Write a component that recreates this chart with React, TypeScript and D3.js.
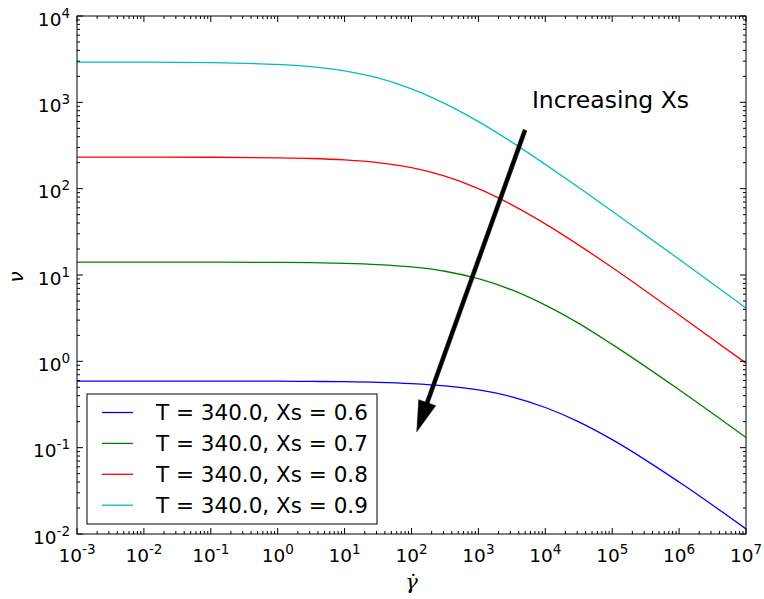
import React from "react";
import * as d3 from "d3";

const shearRates = [1e-3, 1e-2, 1e-1, 1, 3.162, 10, 31.62, 100, 316.2, 1000, 3162, 1e4, 31623, 1e5, 1e6, 1e7];
const nuXs06 = [0.590, 0.590, 0.590, 0.589, 0.585, 0.581, 0.572, 0.553, 0.520, 0.466, 0.388, 0.292, 0.199, 0.124, 0.040, 0.01146];
const nuXs07 = [14.13, 14.13, 14.10, 14.00, 13.88, 13.64, 13.20, 12.40, 11.05, 9.05, 6.71, 4.48, 2.75, 1.57, 0.468, 0.131];
const nuXs08 = [232.3, 232.0, 231.2, 227.8, 223.5, 215.0, 200.0, 175.0, 139.5, 100.0, 65.0, 39.1, 22.2, 12.2, 3.44, 0.953];
const nuXs09 = [2924, 2915, 2880, 2745, 2590, 2310, 1915, 1430, 964, 597, 346, 191, 103.3, 54.8, 15.2, 4.15];
const seriesLabels = ["T = 340.0, Xs = 0.6", "T = 340.0, Xs = 0.7", "T = 340.0, Xs = 0.8", "T = 340.0, Xs = 0.9"];
const seriesColors = ["#0000ff", "#008000", "#ff0000", "#00bfbf"];
const xExponents = [-3, -2, -1, 0, 1, 2, 3, 4, 5, 6, 7];
const yExponents = [-2, -1, 0, 1, 2, 3, 4];
const arrowTail = [4977, 477.5];
const arrowTip = [119.7, 0.1524];
const annotationAt = [6310, 859];
const annotationText = "Increasing Xs";

const W = 764, H = 599;
const L = 77, R = 746, T = 16, B = 534;
const FONT = "'DejaVu Sans', sans-serif";

export default function App() {
  const x = d3.scaleLog().domain([1e-3, 1e7]).range([L, R]);
  const y = d3.scaleLog().domain([1e-2, 1e4]).range([B, T]);
  const series = [nuXs06, nuXs07, nuXs08, nuXs09];
  const line = d3
    .line<[number, number]>()
    .x((d) => x(d[0]))
    .y((d) => y(d[1]))
    .curve(d3.curveMonotoneX);

  const xMinor: number[] = [];
  for (let e = -3; e < 7; e++) for (let k = 2; k <= 9; k++) xMinor.push(k * Math.pow(10, e));
  const yMinor: number[] = [];
  for (let e = -2; e < 4; e++) for (let k = 2; k <= 9; k++) yMinor.push(k * Math.pow(10, e));

  const major = 6, minor = 3;

  const tx = x(arrowTail[0]), ty = y(arrowTail[1]);
  const hx = x(arrowTip[0]), hy = y(arrowTip[1]);
  const dx = hx - tx, dy = hy - ty;
  const len = Math.hypot(dx, dy);
  const ux = dx / len, uy = dy / len;
  const px = -uy, py = ux;
  const headLen = 31, headHalf = 9, shaftHalf = 2;
  const bx = hx - ux * headLen, by = hy - uy * headLen;
  const arrowPts = [
    [tx + px * shaftHalf, ty + py * shaftHalf],
    [bx + px * shaftHalf, by + py * shaftHalf],
    [bx + px * headHalf, by + py * headHalf],
    [hx, hy],
    [bx - px * headHalf, by - py * headHalf],
    [bx - px * shaftHalf, by - py * shaftHalf],
    [tx - px * shaftHalf, ty - py * shaftHalf],
  ]
    .map((p) => p.join(","))
    .join(" ");

  const legX = 87, legY = 394, legW = 290, legH = 130;
  const rowY0 = 412.5, rowStep = 30.9;

  return (
    <svg width={W} height={H} style={{ position: "absolute", left: 0, top: 0, background: "#fff" }} fontFamily={FONT}>
      <rect x={0} y={0} width={W} height={H} fill="#fff" />
      <defs>
        <clipPath id="plotclip">
          <rect x={L} y={T} width={R - L} height={B - T} />
        </clipPath>
      </defs>
      <g clipPath="url(#plotclip)">
        {series.map((s, i) => (
          <path
            key={i}
            d={line(shearRates.map((g, j) => [g, s[j]]) as [number, number][]) || ""}
            fill="none"
            stroke={seriesColors[i]}
            strokeWidth={1.3}
          />
        ))}
      </g>

      <g stroke="#000" strokeWidth={1}>
        {xExponents.map((e) => {
          const xx = x(Math.pow(10, e));
          return (
            <g key={"xm" + e}>
              <line x1={xx} x2={xx} y1={B} y2={B - major} />
              <line x1={xx} x2={xx} y1={T} y2={T + major} />
            </g>
          );
        })}
        {xMinor.map((v, i) => {
          const xx = x(v);
          return (
            <g key={"xn" + i}>
              <line x1={xx} x2={xx} y1={B} y2={B - minor} />
              <line x1={xx} x2={xx} y1={T} y2={T + minor} />
            </g>
          );
        })}
        {yExponents.map((e) => {
          const yy = y(Math.pow(10, e));
          return (
            <g key={"ym" + e}>
              <line x1={L} x2={L + major} y1={yy} y2={yy} />
              <line x1={R} x2={R - major} y1={yy} y2={yy} />
            </g>
          );
        })}
        {yMinor.map((v, i) => {
          const yy = y(v);
          return (
            <g key={"yn" + i}>
              <line x1={L} x2={L + minor} y1={yy} y2={yy} />
              <line x1={R} x2={R - minor} y1={yy} y2={yy} />
            </g>
          );
        })}
      </g>

      {xExponents.map((e) => (
        <text key={"xl" + e} x={x(Math.pow(10, e))} y={B + 28} textAnchor="middle" fontSize={18.5} fill="#000">
          10
          <tspan dy={-8} fontSize={13.5}>
            {e < 0 ? "-" + Math.abs(e) : String(e)}
          </tspan>
        </text>
      ))}
      {yExponents.map((e) => (
        <text key={"yl" + e} x={L - 7} y={y(Math.pow(10, e)) + 9.5} textAnchor="end" fontSize={18.5} fill="#000">
          10
          <tspan dy={-8} fontSize={13.5}>
            {e < 0 ? "-" + Math.abs(e) : String(e)}
          </tspan>
        </text>
      ))}

      <rect x={L} y={T} width={R - L} height={B - T} fill="none" stroke="#000" strokeWidth={1} />

      <text
        x={0}
        y={0}
        transform={`translate(23,${(T + B) / 2 + 2}) rotate(-90)`}
        textAnchor="middle"
        fontSize={20}
        fontStyle="italic"
        fill="#000"
      >
        ν
      </text>
      <text x={(L + R) / 2} y={589} textAnchor="middle" fontSize={21} fontStyle="italic" fontFamily="'DejaVu Serif', serif" fill="#000">
        γ̇
      </text>

      <polygon points={arrowPts} fill="#000" stroke="#000" strokeWidth={0.5} />
      <text x={x(annotationAt[0])} y={y(annotationAt[1])} fontSize={23.5} fill="#000">
        {annotationText}
      </text>

      <rect x={legX} y={legY} width={legW} height={legH} fill="#fff" stroke="#000" strokeWidth={1} />
      {seriesLabels.map((lab, i) => {
        const ry = rowY0 + i * rowStep;
        return (
          <g key={"lg" + i}>
            <line x1={102} x2={133} y1={ry} y2={ry} stroke={seriesColors[i]} strokeWidth={1.3} />
            <text x={156} y={ry + 7.5} fontSize={21.5} fill="#000">
              {lab}
            </text>
          </g>
        );
      })}
    </svg>
  );
}
